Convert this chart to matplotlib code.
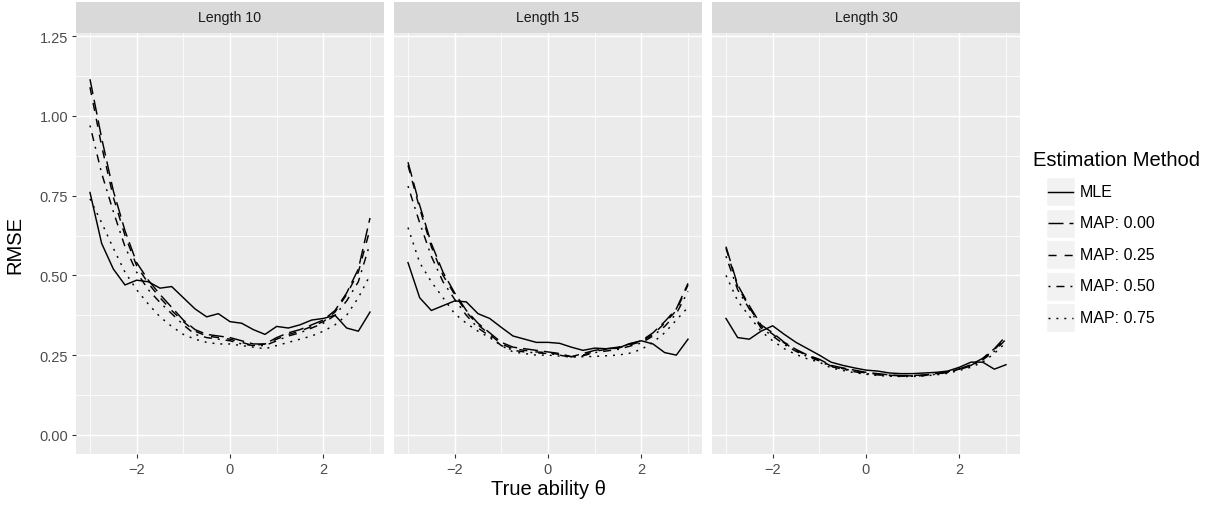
import numpy as np
import matplotlib
matplotlib.use("Agg")
import matplotlib.pyplot as plt
from matplotlib.patches import Rectangle
from matplotlib.lines import Line2D

plt.rcParams['font.family'] = ['Liberation Sans', 'DejaVu Sans']
plt.rcParams['lines.scale_dashes'] = False

# --- data ---
theta = [-3.0, -2.75, -2.5, -2.25, -2.0, -1.75, -1.5, -1.25, -1.0, -0.75, -0.5, -0.25,
         0.0, 0.25, 0.5, 0.75, 1.0, 1.25, 1.5, 1.75, 2.0, 2.25, 2.5, 2.75, 3.0]

panels = ["Length 10", "Length 15", "Length 30"]
methods = ["MLE", "MAP: 0.00", "MAP: 0.25", "MAP: 0.50", "MAP: 0.75"]

# Length 10
mle_10   = [0.76, 0.60, 0.52, 0.47, 0.485, 0.48, 0.46, 0.465, 0.43, 0.395, 0.37, 0.38,
            0.355, 0.35, 0.33, 0.315, 0.34, 0.335, 0.345, 0.36, 0.365, 0.375, 0.335, 0.325, 0.385]
map00_10 = [1.115, 0.93, 0.765, 0.64, 0.54, 0.485, 0.44, 0.40, 0.36, 0.33, 0.315, 0.31,
            0.305, 0.295, 0.285, 0.285, 0.305, 0.32, 0.33, 0.345, 0.36, 0.39, 0.445, 0.52, 0.68]
map25_10 = [1.09, 0.905, 0.745, 0.625, 0.53, 0.475, 0.43, 0.39, 0.355, 0.325, 0.31, 0.305,
            0.30, 0.29, 0.28, 0.285, 0.30, 0.315, 0.325, 0.34, 0.355, 0.385, 0.44, 0.51, 0.645]
map50_10 = [0.97, 0.82, 0.70, 0.59, 0.51, 0.455, 0.415, 0.38, 0.345, 0.315, 0.305, 0.30,
            0.295, 0.285, 0.28, 0.28, 0.295, 0.31, 0.32, 0.335, 0.35, 0.375, 0.42, 0.48, 0.60]
map75_10 = [0.74, 0.665, 0.585, 0.51, 0.455, 0.41, 0.37, 0.34, 0.315, 0.30, 0.29, 0.285,
            0.285, 0.28, 0.275, 0.27, 0.28, 0.29, 0.30, 0.31, 0.325, 0.345, 0.375, 0.43, 0.50]

# Length 15
mle_15   = [0.54, 0.43, 0.39, 0.405, 0.42, 0.417, 0.38, 0.365, 0.337, 0.31, 0.30, 0.29,
            0.29, 0.287, 0.275, 0.265, 0.272, 0.27, 0.272, 0.286, 0.295, 0.285, 0.258, 0.25, 0.30]
map00_15 = [0.855, 0.72, 0.60, 0.51, 0.445, 0.39, 0.35, 0.32, 0.29, 0.275, 0.27, 0.265,
            0.26, 0.255, 0.245, 0.255, 0.265, 0.27, 0.275, 0.285, 0.295, 0.32, 0.355, 0.395, 0.475]
map25_15 = [0.845, 0.71, 0.59, 0.50, 0.44, 0.385, 0.345, 0.315, 0.285, 0.27, 0.265, 0.26,
            0.258, 0.252, 0.245, 0.25, 0.262, 0.268, 0.272, 0.282, 0.292, 0.315, 0.35, 0.39, 0.47]
map50_15 = [0.78, 0.665, 0.56, 0.48, 0.425, 0.375, 0.335, 0.31, 0.28, 0.265, 0.26, 0.257,
            0.255, 0.25, 0.243, 0.248, 0.258, 0.263, 0.268, 0.278, 0.288, 0.31, 0.34, 0.38, 0.45]
map75_15 = [0.65, 0.54, 0.48, 0.43, 0.38, 0.35, 0.325, 0.305, 0.28, 0.26, 0.255, 0.25,
            0.25, 0.247, 0.245, 0.245, 0.246, 0.248, 0.25, 0.256, 0.268, 0.29, 0.32, 0.36, 0.40]

# Length 30
mle_30   = [0.365, 0.305, 0.30, 0.325, 0.342, 0.315, 0.29, 0.27, 0.25, 0.228, 0.218, 0.21,
            0.203, 0.20, 0.194, 0.192, 0.192, 0.194, 0.196, 0.20, 0.212, 0.228, 0.228, 0.206, 0.22]
map00_30 = [0.59, 0.47, 0.405, 0.345, 0.32, 0.29, 0.268, 0.25, 0.237, 0.218, 0.21, 0.203,
            0.196, 0.192, 0.188, 0.186, 0.186, 0.188, 0.192, 0.198, 0.207, 0.22, 0.24, 0.27, 0.31]
map25_30 = [0.585, 0.465, 0.40, 0.34, 0.316, 0.288, 0.265, 0.248, 0.235, 0.216, 0.208, 0.20,
            0.194, 0.19, 0.187, 0.185, 0.185, 0.187, 0.191, 0.197, 0.206, 0.218, 0.238, 0.267, 0.305]
map50_30 = [0.56, 0.455, 0.395, 0.335, 0.31, 0.283, 0.262, 0.245, 0.232, 0.214, 0.206, 0.198,
            0.192, 0.188, 0.186, 0.184, 0.184, 0.186, 0.19, 0.196, 0.205, 0.216, 0.235, 0.262, 0.30]
map75_30 = [0.50, 0.42, 0.372, 0.325, 0.295, 0.27, 0.252, 0.238, 0.228, 0.21, 0.202, 0.195,
            0.19, 0.186, 0.184, 0.183, 0.183, 0.185, 0.188, 0.193, 0.202, 0.212, 0.228, 0.255, 0.29]

rmse = {
    "Length 10": [mle_10, map00_10, map25_10, map50_10, map75_10],
    "Length 15": [mle_15, map00_15, map25_15, map50_15, map75_15],
    "Length 30": [mle_30, map00_30, map25_30, map50_30, map75_30],
}

# ggplot-like linetypes (solid, longdash, dashed, dotdash, dotted)
linestyles = ["solid",
              (0, (10.8, 4.3)),
              (0, (5.8, 5.8)),
              (0, (1.4, 4.3, 5.8, 4.3)),
              (0, (1.4, 4.3))]

W, H = 1219, 506
fig = plt.figure(figsize=(W / 100, H / 100), dpi=100)

panel_left = [76, 394, 712]
panel_w = 308
panel_top, panel_bot = 34, 455
strip_h = 31.5

for i, name in enumerate(panels):
    ax = fig.add_axes([panel_left[i] / W, 1 - panel_bot / H, panel_w / W, (panel_bot - panel_top) / H])
    ax.set_facecolor("#EBEBEB")
    for s in ax.spines.values():
        s.set_visible(False)
    for vals, ls in zip(rmse[name], linestyles):
        ax.plot(theta, vals, color="black", lw=1.05, linestyle=ls)
    ax.set_xlim(-3.3, 3.3)
    ax.set_ylim(-0.06, 1.26)
    ax.set_xticks([-2, 0, 2])
    ax.set_xticks([-3, -1, 1, 3], minor=True)
    ax.set_yticks([0, 0.25, 0.5, 0.75, 1.0, 1.25])
    ax.set_yticklabels(["0.00", "0.25", "0.50", "0.75", "1.00", "1.25"])
    ax.set_yticks([0.125, 0.375, 0.625, 0.875, 1.125], minor=True)
    ax.grid(which="major", color="white", lw=1.05)
    ax.grid(which="minor", color="white", lw=0.55)
    ax.set_axisbelow(True)
    ax.tick_params(which="major", length=3.0, width=0.8, color="#333333",
                   labelsize=10.5, labelcolor="#4D4D4D", pad=2.5)
    ax.tick_params(which="minor", length=0)
    if i > 0:
        ax.tick_params(axis="y", which="both", left=False, labelleft=False)

    # facet strip
    ax.add_patch(Rectangle((0, 1.0), 1, strip_h / (panel_bot - panel_top), transform=ax.transAxes,
                           facecolor="#D9D9D9", edgecolor="none", clip_on=False))
    ax.text(0.5, 1.0 + strip_h / 2 / (panel_bot - panel_top), name, transform=ax.transAxes,
            ha="center", va="center", fontsize=10.2, color="#1A1A1A")

fig.text(548 / W, 1 - 490 / H, "True ability θ", ha="center", va="center", fontsize=14.5)
fig.text(15 / W, 1 - 245 / H, "RMSE", ha="center", va="center", rotation=90, fontsize=14.5)

# legend drawn by hand, ggplot style
fig.text(1033 / W, 1 - 161 / H, "Estimation Method", ha="left", va="center", fontsize=14.5)
for k, (m, ls) in enumerate(zip(methods, linestyles)):
    cy = 192.5 + k * 31.5
    fig.add_artist(Rectangle((1046 / W, 1 - (cy + 14.5) / H), 29 / W, 29 / H,
                             facecolor="#F2F2F2", edgecolor="white", transform=fig.transFigure))
    fig.add_artist(Line2D([1048 / W, 1073 / W], [1 - cy / H, 1 - cy / H], color="black",
                          lw=1.05, linestyle=ls, transform=fig.transFigure))
    fig.text(1080 / W, 1 - cy / H, m, ha="left", va="center", fontsize=11.5)

fig.savefig("out.png", dpi=100)
